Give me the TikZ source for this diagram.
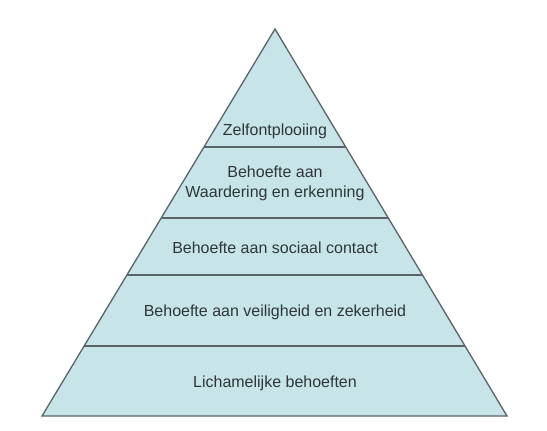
\documentclass[tikz,border=0pt]{standalone}
\usepackage{fontspec}
\setmainfont{Liberation Sans}
\usetikzlibrary{calc}
\definecolor{pyrfill}{HTML}{C7E4E9}
\definecolor{pyrline}{HTML}{5A6466}
\definecolor{pyrtext}{HTML}{2E3638}
\begin{document}
\begin{tikzpicture}[x=1pt,y=-1pt,
  edge/.style={draw=pyrline,line width=1.3pt},
  lbl/.style={text=pyrtext,font=\fontsize{16}{20}\selectfont,align=center,inner sep=0pt}]
\useasboundingbox[fill=white] (0,0) rectangle (547,431);
\coordinate (apex) at (275,29);
\coordinate (bl) at (42,416);
\coordinate (br) at (507,416);
\fill[pyrfill] (apex) -- (bl) -- (br) -- cycle;
\foreach \t/\n in {0.305/a,0.488/b,0.636/c,0.819/d}{
  \coordinate (l\n) at ($(apex)!\t!(bl)$);
  \coordinate (r\n) at ($(apex)!\t!(br)$);
  \draw[edge] (l\n) -- (r\n);
}
\draw[edge,line join=miter] (apex) -- (bl) -- (br) -- cycle;
\node[lbl] (t1) at (275,131) {Zelfontplooiing};
\node[lbl] (t2) at (275,183) {Behoefte aan\\Waardering en erkenning};
\node[lbl] (t3) at (275,248) {Behoefte aan sociaal contact};
\node[lbl] (t4) at (275,312) {Behoefte aan veiligheid en zekerheid};
\node[lbl] (t5) at (275,383) {Lichamelijke behoeften};
\end{tikzpicture}
\end{document}
